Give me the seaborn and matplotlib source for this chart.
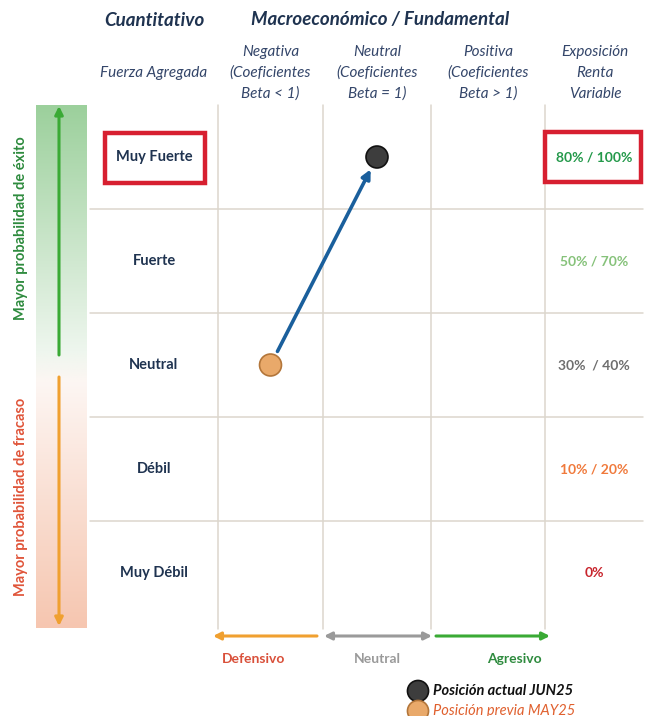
import numpy as np
import pandas as pd
import matplotlib
matplotlib.use("Agg")
import matplotlib.pyplot as plt
from matplotlib.patches import Rectangle, FancyArrowPatch
from matplotlib.colors import LinearSegmentedColormap
import seaborn as sns

# ---- content -------------------------------------------------------------
fuerza_rows = ["Muy Fuerte", "Fuerte", "Neutral", "Débil", "Muy Débil"]
beta_cols = ["Negativa\n(Coeficientes\nBeta < 1)",
             "Neutral\n(Coeficientes\nBeta = 1)",
             "Positiva\n(Coeficientes\nBeta > 1)"]
beta_keys = ["Negativa", "Neutral", "Positiva"]
exposicion = ["80% / 100%", "50% / 70%", "30%  / 40%", "10% / 20%", "0%"]
exposicion_colors = ["#23994a", "#86c27a", "#6e6e6e", "#f07a3c", "#c8242c"]

# positions: (beta column, fuerza row)
pos_actual = ("Neutral", "Muy Fuerte")
pos_previa = ("Negativa", "Neutral")
label_actual = "Posición actual JUN25"
label_previa = "Posición previa MAY25"
selected_row = "Muy Fuerte"

estilo = ["Defensivo", "Neutral", "Agresivo"]
estilo_colors = ["#d9503a", "#9a9a9a", "#2e8b3e"]
estilo_arrow_colors = ["#f0a030", "#9a9a9a", "#3aaa35"]

# ---- layout (pixel units) -------------------------------------------------
W, H = 650, 716
col_edges = [90, 218, 323, 431, 545, 645]
row_top, row_h = 105, 104
col_centers = [(a + b) / 2 for a, b in zip(col_edges[:-1], col_edges[1:])]
row_centers = [row_top + row_h * (i + 0.5) for i in range(len(fuerza_rows))]
x_of = {k: col_centers[i + 1] for i, k in enumerate(beta_keys)}
y_of = {k: row_centers[i] for i, k in enumerate(fuerza_rows)}

sns.set_theme(style="white")
plt.rcParams["font.family"] = ["Lato", "DejaVu Sans"]

fig = plt.figure(figsize=(W / 100, H / 100), dpi=100)
ax = fig.add_axes([0, 0, 1, 1])

navy = "#1f3350"
sub = "#34466a"
grid_c = "#dcd6cd"
pal = {label_actual: "#3d3d3d", label_previa: "#e9a96a"}
edges = ["#111111", "#b3763a"]

# grid
bottom = row_top + row_h * len(fuerza_rows)
for x in col_edges[1:-1]:
    ax.plot([x, x], [row_top, bottom + 4], color=grid_c, lw=1.1, zorder=1)
for i in range(1, len(fuerza_rows)):
    y = row_top + row_h * i
    ax.plot([col_edges[0], 643], [y, y], color=grid_c, lw=1.1, zorder=1)

# headers
ax.text(col_centers[0], 20, "Cuantitativo", ha="center", va="center",
        fontsize=13.5, fontweight="bold", fontstyle="italic", color=navy)
ax.text(380, 20, "Macroeconómico / Fundamental", ha="center", va="center",
        fontsize=13.5, fontweight="bold", fontstyle="italic", color=navy)
ax.text(col_centers[0], 73, "Fuerza Agregada", ha="center", va="center",
        fontsize=11, fontstyle="italic", color=sub)
for i, lab in enumerate(beta_cols):
    ax.text(col_centers[i + 1], 73, lab, ha="center", va="center",
            fontsize=11, fontstyle="italic", color=sub, linespacing=1.6)
ax.text(col_centers[4], 73, "Exposición\nRenta\nVariable", ha="center",
        va="center", fontsize=11, fontstyle="italic", color=sub,
        linespacing=1.6)

# row labels and exposure
for i, (lab, ex, ec) in enumerate(zip(fuerza_rows, exposicion,
                                      exposicion_colors)):
    ax.text(col_centers[0], row_centers[i], lab, ha="center", va="center",
            fontsize=10.5, fontweight="bold", color=navy)
    ax.text(col_centers[4] - 1, row_centers[i], ex, ha="center",
            va="center", fontsize=10, fontweight="bold", color=ec)

# red highlight boxes
yi = y_of[selected_row]
ax.add_patch(Rectangle((105, yi - 24), 100, 50, fill=False,
                       ec="#d71f30", lw=3.2, zorder=3))
ax.add_patch(Rectangle((545, yi - 25), 96, 50, fill=False,
                       ec="#d71f30", lw=3.2, zorder=3))

# left gradient bar
grad = LinearSegmentedColormap.from_list(
    "exito_fracaso",
    [(0.0, "#9cd09c"), (0.47, "#eef6ee"), (0.53, "#fdf6f3"),
     (1.0, "#f6c6b0")])
ax.imshow(np.linspace(0, 1, 256).reshape(-1, 1), cmap=grad, aspect="auto",
          extent=(36, 87, 628, 105), zorder=0)
ax.annotate("", xy=(59, 106), xytext=(59, 355),
            arrowprops=dict(arrowstyle="-|>", color="#3aaa35", lw=2.2,
                            mutation_scale=12, shrinkA=0, shrinkB=0))
ax.annotate("", xy=(59, 626), xytext=(59, 377),
            arrowprops=dict(arrowstyle="-|>", color="#f0a030", lw=2.2,
                            mutation_scale=12, shrinkA=0, shrinkB=0))
ax.text(21, 228, "Mayor probabilidad de éxito", rotation=90, ha="center",
        va="center", fontsize=10.5, fontweight="bold", color="#2e8b3e")
ax.text(21, 497, "Mayor probabilidad de fracaso", rotation=90, ha="center",
        va="center", fontsize=10.5, fontweight="bold", color="#e0553a")

# movement arrow and positions
x0, y0 = x_of[pos_previa[0]], y_of[pos_previa[1]]
x1, y1 = x_of[pos_actual[0]], y_of[pos_actual[1]]
ax.add_patch(FancyArrowPatch((x0, y0), (x1, y1), arrowstyle="-|>",
                             mutation_scale=13, color="#1a5f9c", lw=2.6,
                             shrinkA=11, shrinkB=10, zorder=4))
pts = pd.DataFrame({
    "x": [x1, x0],
    "y": [y1, y0],
    "pos": [label_actual, label_previa],
})
sns.scatterplot(data=pts, x="x", y="y", hue="pos", palette=pal,
                s=250, edgecolor=edges, linewidth=1.2,
                legend=False, ax=ax, zorder=5)

# bottom style arrows
ya = 636
segs = [(317, 213), (324, 432), (436, 550)]
for k, ((xa, xb), c) in enumerate(zip(segs, estilo_arrow_colors)):
    style = "<|-|>" if k == 1 else "-|>"
    ax.annotate("", xy=(xb, ya), xytext=(xa, ya),
                arrowprops=dict(arrowstyle=style, color=c, lw=2.2,
                                mutation_scale=11, shrinkA=0, shrinkB=0))
for xc, lab, c in zip([254, 377, 514], estilo, estilo_colors):
    ax.text(xc, 659, lab, ha="center", va="center", fontsize=10,
            fontweight="bold", color=c)

# legend
leg = pd.DataFrame({"x": [418, 418], "y": [691, 711],
                    "pos": [label_actual, label_previa]})
sns.scatterplot(data=leg, x="x", y="y", hue="pos", palette=pal,
                s=230, edgecolor=edges, linewidth=1.2,
                legend=False, ax=ax, zorder=5, clip_on=False)
ax.text(433, 691, label_actual, ha="left", va="center", fontsize=10.5,
        fontweight="bold", fontstyle="italic", color="#111111")
ax.text(433, 711, label_previa, ha="left", va="center", fontsize=10.5,
        fontstyle="italic", color="#e0602e")

ax.set_xlim(0, W)
ax.set_ylim(H, 0)
ax.axis("off")

fig.savefig("out.png", dpi=100, facecolor="white")
